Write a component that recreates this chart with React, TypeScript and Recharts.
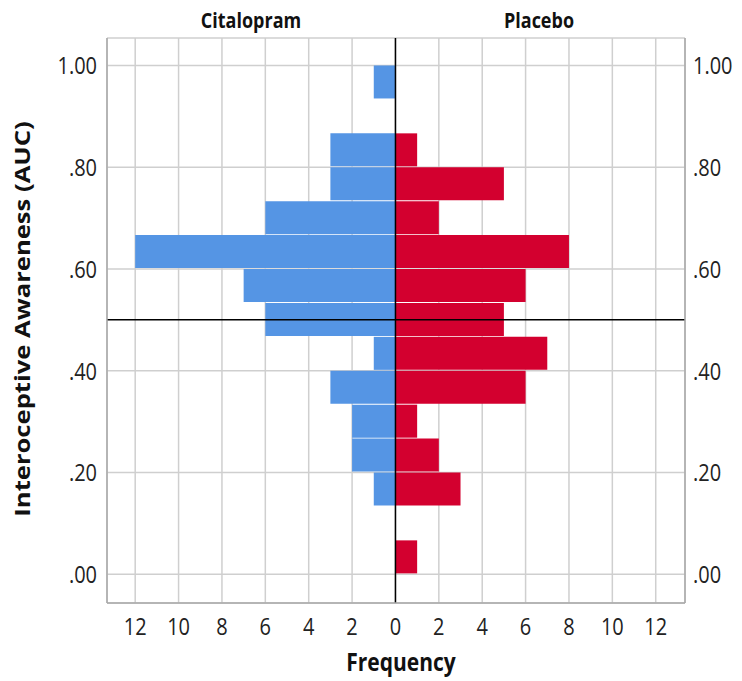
import React from 'react';
import { ComposedChart, Bar, XAxis, YAxis, CartesianGrid, ReferenceLine } from 'recharts';

// Bin centres of Interoceptive Awareness (AUC), bins of width 1/15
const binMids = [0.0333, 0.1, 0.1667, 0.2333, 0.3, 0.3667, 0.4333, 0.5, 0.5667, 0.6333, 0.7, 0.7667, 0.8333, 0.9, 0.9667];
// Frequencies per bin (bottom to top)
const citalopram = [0, 0, 1, 2, 2, 3, 1, 6, 7, 12, 6, 3, 3, 0, 1];
const placebo = [1, 0, 3, 2, 1, 6, 7, 5, 6, 8, 2, 5, 1, 0, 0];
const yTicks = [0, 0.2, 0.4, 0.6, 0.8, 1.0];
const xTicks = [-12, -10, -8, -6, -4, -2, 0, 2, 4, 6, 8, 10, 12];
const groupTitles = ['Citalopram', 'Placebo'];
const meanLine = 0.5;

const data = binMids.map((m, i) => ({ bin: m, citalopram: -citalopram[i], placebo: placebo[i] }));

const W = 742;
const H = 681;
const K = 1.22; // vertical text stretch
const FONT = '"Open Sans", "Noto Sans", sans-serif';
const Y_DOMAIN: [number, number] = [-0.0565, 1.054];

const fmtY = (v: number) => (v >= 1 ? '1.00' : '.' + Math.round(v * 100).toString().padStart(2, '0'));

const LeftTick = (props: any) => {
  const { x, y, payload } = props;
  return (
    <g transform={`translate(${x},${y}) scale(1,${K})`}>
      <text x={0} y={0} dy="0.36em" textAnchor="end" fontFamily={FONT} fontSize={20} fill="#222">
        {fmtY(payload.value)}
      </text>
    </g>
  );
};

const RightTick = (props: any) => {
  const { x, y, payload } = props;
  return (
    <g transform={`translate(${x},${y}) scale(1,${K})`}>
      <text x={0} y={0} dy="0.36em" textAnchor="start" fontFamily={FONT} fontSize={20} fill="#222">
        {fmtY(payload.value)}
      </text>
    </g>
  );
};

const BottomTick = (props: any) => {
  const { x, y, payload } = props;
  return (
    <g transform={`translate(${x},${y}) scale(1,${K})`}>
      <text x={0} y={0} dy="0.72em" textAnchor="middle" fontFamily={FONT} fontSize={20} fill="#222">
        {Math.abs(payload.value)}
      </text>
    </g>
  );
};

export default function App() {
  return (
    <div style={{ position: 'absolute', left: 0, top: 0, width: W, height: H, background: '#fff' }}>
      <ComposedChart
        layout="vertical"
        width={W}
        height={H}
        data={data}
        stackOffset="sign"
        margin={{ top: 38, right: 0, bottom: 0, left: 0 }}
      >
        <CartesianGrid yAxisId="left" stroke="#cfcfcf" strokeWidth={1.5} />
        <XAxis
          type="number"
          domain={[-13.3, 13.35]}
          allowDataOverflow
          ticks={xTicks}
          interval={0}
          height={78}
          tickLine={false}
          tickSize={0}
          tickMargin={14}
          axisLine={{ stroke: '#a8a8a8', strokeWidth: 1.5 }}
          tick={<BottomTick />}
        />
        <YAxis
          yAxisId="left"
          type="number"
          dataKey="bin"
          reversed
          domain={Y_DOMAIN}
          allowDataOverflow
          ticks={yTicks}
          interval={0}
          width={107}
          tickLine={false}
          tickSize={0}
          tickMargin={10}
          axisLine={{ stroke: '#a8a8a8', strokeWidth: 1.5 }}
          tick={<LeftTick />}
        />
        <YAxis
          yAxisId="right"
          orientation="right"
          type="number"
          dataKey="bin"
          reversed
          domain={Y_DOMAIN}
          allowDataOverflow
          ticks={yTicks}
          interval={0}
          width={57}
          tickLine={false}
          tickSize={0}
          tickMargin={8}
          axisLine={{ stroke: '#a8a8a8', strokeWidth: 1.5 }}
          tick={<RightTick />}
        />
        <Bar yAxisId="left" dataKey="citalopram" stackId="s" fill="#5595e4" barSize={33} isAnimationActive={false} />
        <Bar yAxisId="left" dataKey="placebo" stackId="s" fill="#d3002f" barSize={33} isAnimationActive={false} />
        <ReferenceLine yAxisId="left" x={0} stroke="#000" strokeWidth={1.5} />
        <ReferenceLine yAxisId="left" y={meanLine} stroke="#000" strokeWidth={1.5} />
      </ComposedChart>
      <svg width={W} height={H} style={{ position: 'absolute', left: 0, top: 0, pointerEvents: 'none' }}>
        <text transform={`translate(251,28) scale(1,${K})`} textAnchor="middle" fontFamily={FONT} fontWeight={700} fontSize={18} fill="#111">
          {groupTitles[0]}
        </text>
        <text transform={`translate(539,28) scale(1,${K})`} textAnchor="middle" fontFamily={FONT} fontWeight={700} fontSize={18} fill="#111">
          {groupTitles[1]}
        </text>
        <text transform={`translate(401,671) scale(1,${K})`} textAnchor="middle" fontFamily={FONT} fontWeight={700} fontSize={21} fill="#111">
          Frequency
        </text>
        <text transform={`translate(22,319) scale(1,${K}) rotate(-90)`} textAnchor="middle" dy="0.36em" fontFamily={FONT} fontWeight={700} fontSize={21} fill="#111">
          Interoceptive Awareness (AUC)
        </text>
      </svg>
    </div>
  );
}
